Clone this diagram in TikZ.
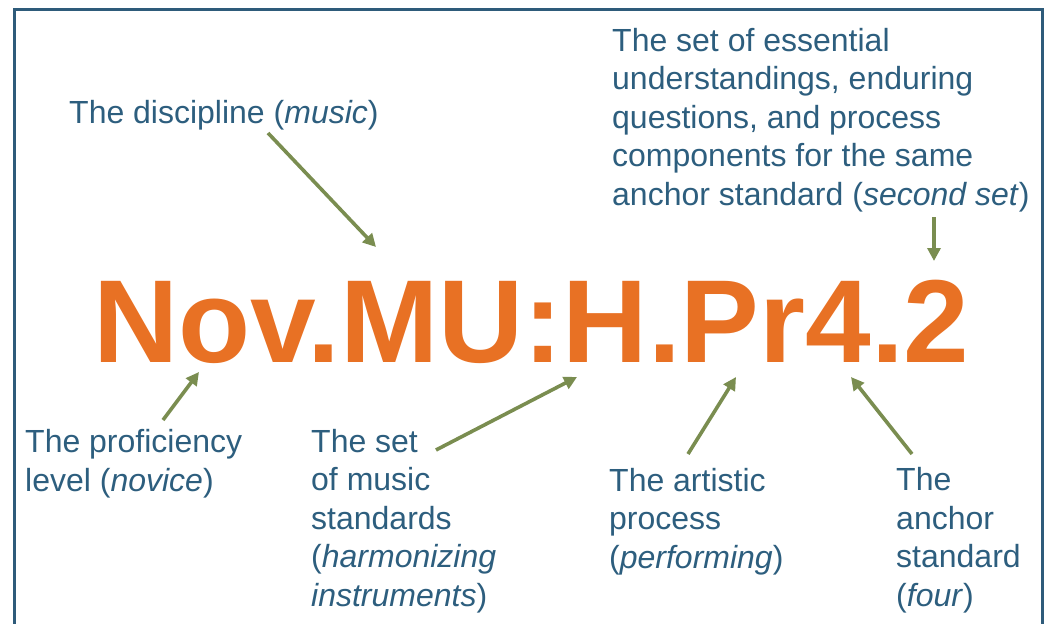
\documentclass[tikz,border=0pt]{standalone}
\usepackage{fontspec}
\setmainfont{Liberation Sans}
\usetikzlibrary{positioning,arrows.meta}
\definecolor{labelblue}{HTML}{2D5E7E}
\definecolor{codeorange}{HTML}{E87124}
\definecolor{arrowgreen}{HTML}{7A8D50}
\definecolor{frameblue}{HTML}{2E5B7A}

\begin{document}
\begin{tikzpicture}[
    x=1pt, y=-1pt,
    base/.style = {inner sep=0pt, anchor=base west, align=left, text=labelblue, font=\fontsize{32}{38.4}\selectfont},
    codetext/.style = {inner sep=0pt, anchor=base west, text=codeorange, font=\fontsize{118}{118}\selectfont\bfseries},
    pointer/.style = {-{Triangle[length=13pt, width=13pt]}, line width=3.6pt, draw=arrowgreen},
]
    \useasboundingbox (0,0) rectangle (1050,624);

    % frame
    \draw[frameblue, line width=3pt] (14,630) -- (14,9) -- (1042,9) -- (1042,630);

    % code
    \node[codetext] (code) at (93,362) {Nov.MU:H.Pr4.2};

    % labels (anchored on the last line)
    \node[base] (discipline) at (69,123) {The discipline (\textit{music})};
    \node[base] (secondset) at (612,205) {The set of essential\\understandings, enduring\\questions, and process\\components for the same\\anchor standard (\textit{second set})};
    \node[base] (level) at (25,491) {The proficiency\\level (\textit{novice})};
    \node[base] (standards) at (311,606) {The set\\of music\\standards\\(\textit{harmonizing}\\\textit{instruments})};
    \node[base] (process) at (609,568) {The artistic\\process\\(\textit{performing})};
    \node[base] (anchor) at (896,606) {The\\anchor\\standard\\(\textit{four})};

    % arrow ends
    \coordinate (disciplinefrom) at (268,133);
    \coordinate (disciplineto) at (376,247);
    \coordinate (secondsetfrom) at (934,217);
    \coordinate (secondsetto) at (934,261);
    \coordinate (levelfrom) at (163,420);
    \coordinate (levelto) at (199,372);
    \coordinate (standardsfrom) at (436,450);
    \coordinate (standardsto) at (577,377);
    \coordinate (processfrom) at (688,454);
    \coordinate (processto) at (736,377);
    \coordinate (anchorfrom) at (912,454);
    \coordinate (anchorto) at (851,377);

    % arrows
    \draw[pointer] (disciplinefrom) -- (disciplineto);
    \draw[pointer] (secondsetfrom) -- (secondsetto);
    \draw[pointer] (levelfrom) -- (levelto);
    \draw[pointer] (standardsfrom) -- (standardsto);
    \draw[pointer] (processfrom) -- (processto);
    \draw[pointer] (anchorfrom) -- (anchorto);

\end{tikzpicture}
\end{document}
